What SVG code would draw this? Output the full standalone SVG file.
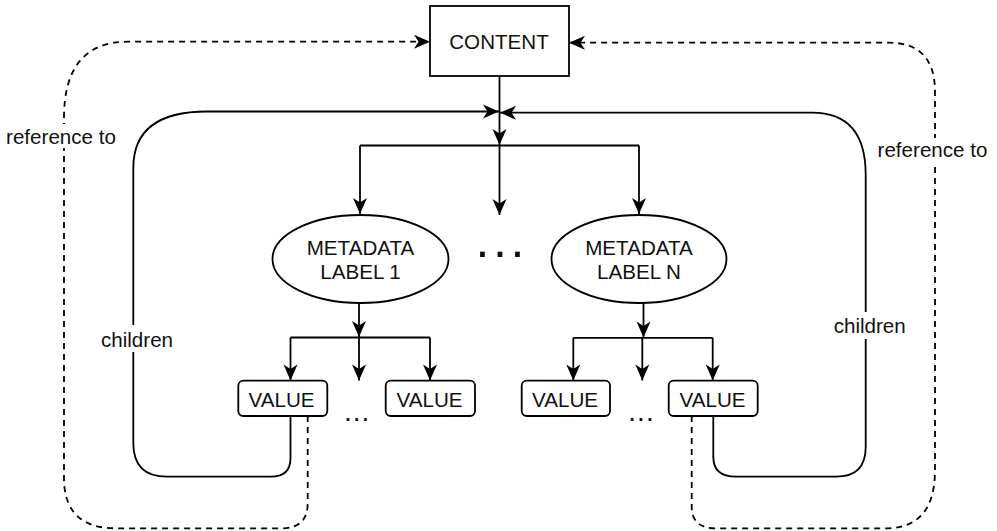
<svg xmlns="http://www.w3.org/2000/svg" width="997" height="531" viewBox="0 0 997 531">
  <style>
    .shape { fill: #fff; stroke: #000; stroke-width: 1.8; }
    .ln { fill: none; stroke: #000; stroke-width: 1.8; }
    .dash { stroke-dasharray: 6 5; }
    text { font-family: "Liberation Sans", Arial, Helvetica, sans-serif; font-size: 20.6px; fill: #111; text-anchor: middle; }
    .bg { fill: #fff; stroke: none; }
  </style>
  <defs>
    <marker id="arr" markerUnits="userSpaceOnUse" markerWidth="20" markerHeight="18" viewBox="-17 -9 20 18" refX="0" refY="0" orient="auto">
      <path d="M0,0 L-16,-7 L-11.5,0 L-16,7 Z" fill="#000"/>
    </marker>
  </defs>

  <!-- connectors -->
  <g id="connectors">
    <!-- content to the branch -->
    <path class="ln" d="M499.5 76 L499.5 145" marker-end="url(#arr)"/>
    <path class="ln" d="M360 145.5 L639 145.5"/>
    <path class="ln" d="M360 145.5 L360 214" marker-end="url(#arr)"/>
    <path class="ln" d="M499.5 145.5 L499.5 215" marker-end="url(#arr)"/>
    <path class="ln" d="M639 145.5 L639 214" marker-end="url(#arr)"/>

    <!-- metadata label 1 to its values -->
    <path class="ln" d="M359 303 L359 337" marker-end="url(#arr)"/>
    <path class="ln" d="M290.5 337.5 L430 337.5"/>
    <path class="ln" d="M290.5 337.5 L290.5 380.5" marker-end="url(#arr)"/>
    <path class="ln" d="M359 337.5 L359 380.5" marker-end="url(#arr)"/>
    <path class="ln" d="M430 337.5 L430 380.5" marker-end="url(#arr)"/>

    <!-- metadata label N to its values -->
    <path class="ln" d="M643.5 303 L643.5 337.5" marker-end="url(#arr)"/>
    <path class="ln" d="M573.3 337.8 L712.7 337.8"/>
    <path class="ln" d="M573.3 337.8 L573.3 380.5" marker-end="url(#arr)"/>
    <path class="ln" d="M642.3 337.8 L642.3 380.5" marker-end="url(#arr)"/>
    <path class="ln" d="M712.7 337.8 L712.7 380.5" marker-end="url(#arr)"/>

    <!-- children loops back to content -->
    <path class="ln" d="M290.5 416 L290.5 458 Q290.5 476.7 271 476.7 L167 476.7 Q133.3 476.7 133.3 443 L133.3 168 Q133.3 111.5 207 111.5 L499 111.5" marker-end="url(#arr)"/>
    <path class="ln" d="M713.3 416 L713.3 457 Q713.3 476.7 736 476.7 L836 476.7 Q865.7 476.7 865.7 447 L865.7 175 Q865.7 112.7 812 112.7 L500 112.7" marker-end="url(#arr)"/>

    <!-- reference loops back to content -->
    <path class="ln dash" d="M307.7 416 L307.7 503 Q307.7 528.3 282 528.3 L116 528.3 Q64 528.3 64 478 L64 118 Q64 41.7 128 41.7 L430 41.7" marker-end="url(#arr)"/>
    <path class="ln dash" d="M691.7 416 L691.7 507 Q691.7 528.3 716 528.3 L886 528.3 Q935 528.3 935 470 L935 92 Q935 42.7 889 42.7 L569 42.7" marker-end="url(#arr)"/>

    <!-- edge labels -->
    <rect class="bg" x="4" y="124" width="114" height="24"/>
    <text x="61" y="143.5">reference to</text>
    <rect class="bg" x="876" y="138" width="114" height="24"/>
    <text x="932.5" y="157">reference to</text>
    <rect class="bg" x="99" y="325" width="77" height="27"/>
    <text x="137" y="346.5">children</text>
    <rect class="bg" x="831" y="312" width="78" height="27"/>
    <text x="869.7" y="333.3">children</text>
  </g>

  <g id="content">
    <rect class="shape" x="430" y="6" width="139" height="70"/>
    <text x="499" y="49.3">CONTENT</text>
  </g>

  <g id="meta1">
    <ellipse class="shape" cx="360.5" cy="259" rx="88" ry="44"/>
    <text x="360.5" y="255">METADATA</text>
    <text x="360.5" y="279">LABEL 1</text>
  </g>

  <g id="metaN">
    <ellipse class="shape" cx="639" cy="259" rx="87.5" ry="44"/>
    <text x="639" y="255">METADATA</text>
    <text x="639" y="279">LABEL N</text>
  </g>

  <!-- more labels between the two -->
  <g id="labels-ellipsis">
    <text x="501.8" y="256.5" style="font-size:50px; letter-spacing:3.6px">...</text>
  </g>

  <g id="value1">
    <rect class="shape" x="238.3" y="380.7" width="89" height="35.3" rx="5"/>
    <text x="281.5" y="407">VALUE</text>
  </g>
  <g id="value2">
    <rect class="shape" x="385.7" y="380.7" width="89.3" height="35.3" rx="5"/>
    <text x="429.5" y="407">VALUE</text>
  </g>
  <g id="value3">
    <rect class="shape" x="521.7" y="380.7" width="88.3" height="35.3" rx="5"/>
    <text x="565" y="407">VALUE</text>
  </g>
  <g id="value4">
    <rect class="shape" x="668.7" y="380.7" width="89" height="35.3" rx="5"/>
    <text x="712.5" y="407">VALUE</text>
  </g>

  <g id="values-ellipsis">
    <text x="357.2" y="421" style="font-size:28px; letter-spacing:1px">...</text>
    <text x="641.5" y="421" style="font-size:28px; letter-spacing:1px">...</text>
  </g>
</svg>
